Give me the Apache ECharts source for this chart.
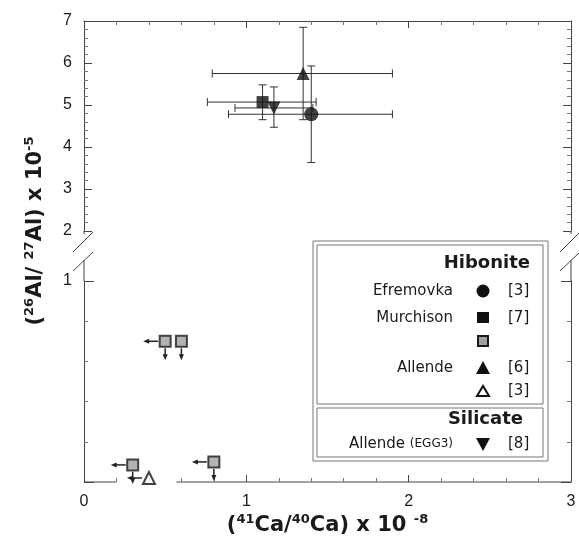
<!DOCTYPE html>
<html lang="en">
<head>
  <meta charset="UTF-8" />
  <title>41Ca/40Ca vs 26Al/27Al</title>
  <script src="https://cdn.jsdelivr.net/npm/echarts@6.0.0/dist/echarts.min.js"></script>
  <style>html, body { margin: 0; background: #fff; }</style>
</head>
<body>
  <div id="main" style="width: 579px; height: 551px;"></div>
  <script type="text/javascript">
    // upper panel (26Al/27Al from 2 to 7), points with error bars
    var upperNames = ['Efremovka', 'Murchison', 'Allende', 'Allende (EGG3)'];
    var upperX   = [1.40, 1.10, 1.35, 1.17];
    var upperY   = [4.78, 5.07, 5.75, 4.93];
    var upperXLo = [0.89, 0.76, 0.79, 0.93];
    var upperXHi = [1.90, 1.43, 1.90, 1.41];
    var upperYLo = [3.63, 4.65, 4.65, 4.47];
    var upperYHi = [5.93, 5.48, 6.85, 5.43];

    // lower panel (0 to 1): upper limits, Murchison grey squares
    var limitX = [0.50, 0.60, 0.30, 0.80];
    var limitY = [0.70, 0.70, 0.085, 0.10];
    var limitLeft = [1, 0, 1, 1];
    var limitDown = [1, 1, 1, 1];
    // Allende [3] open triangle
    var openTriX = [0.40];
    var openTriY = [0.02];
    var openTriLeft = [1];
    var openTriDown = [0];

    var xTickLabels = ['0', '1', '2', '3'];

    // styles
    var axisColor = '#444';
    var textColor = '#1a1a1a';
    var tickFont = 'Liberation Sans';
    var legFont = 'DejaVu Sans';
    var upperSymbols = ['circle', 'rect', 'triangle', 'triangle'];
    var upperRotate = [0, 0, 0, 180];
    var upperSizes = [14, 12, 13, 13];

    var chart = echarts.init(document.getElementById('main'));

    function yAxisDef(grid, pos, min, max, showLabel, majorLen) {
      return {
        gridIndex: grid, type: 'value', position: pos, min: min, max: max, interval: 1,
        axisLine: { show: true, onZero: false, lineStyle: { color: axisColor, width: 1 } },
        axisTick: { show: true, inside: true, length: majorLen, lineStyle: { color: axisColor } },
        minorTick: { show: true, splitNumber: 5, length: 4, lineStyle: { color: '#777' } },
        axisLabel: {
          show: showLabel, margin: 12, color: textColor, fontFamily: tickFont, fontSize: 16,
          formatter: function (v) { return (grid === 1 && v === 0) ? '' : String(v); }
        },
        splitLine: { show: false }
      };
    }

    var errData = upperX.map(function (x, i) {
      return [x, upperY[i], upperXLo[i], upperXHi[i], upperYLo[i], upperYHi[i]];
    });

    function errBars(params, api) {
      var c = api.coord([api.value(0), api.value(1)]);
      var xl = api.coord([api.value(2), api.value(1)])[0];
      var xh = api.coord([api.value(3), api.value(1)])[0];
      var yl = api.coord([api.value(0), api.value(4)])[1];
      var yh = api.coord([api.value(0), api.value(5)])[1];
      var cap = 4;
      var st = { stroke: '#333', lineWidth: 1 };
      function ln(x1, y1, x2, y2) {
        return { type: 'line', shape: { x1: x1, y1: y1, x2: x2, y2: y2 }, style: st };
      }
      return {
        type: 'group',
        children: [
          ln(xl, c[1], xh, c[1]), ln(xl, c[1] - cap, xl, c[1] + cap), ln(xh, c[1] - cap, xh, c[1] + cap),
          ln(c[0], yl, c[0], yh), ln(c[0] - cap, yl, c[0] + cap, yl), ln(c[0] - cap, yh, c[0] + cap, yh)
        ]
      };
    }

    // arrows for upper limits (left = x limit, down = y limit)
    function limitArrows(params, api) {
      var c = api.coord([api.value(0), api.value(1)]);
      var st = { stroke: '#222', lineWidth: 1.5 };
      var fill = { fill: '#222' };
      var kids = [];
      if (api.value(2)) {
        kids.push({ type: 'line', shape: { x1: c[0] - 7, y1: c[1], x2: c[0] - 19, y2: c[1] }, style: st });
        kids.push({ type: 'polygon', shape: { points: [[c[0] - 22, c[1]], [c[0] - 16, c[1] - 2.5], [c[0] - 16, c[1] + 2.5]] }, style: fill });
      }
      if (api.value(3)) {
        kids.push({ type: 'line', shape: { x1: c[0], y1: c[1] + 7, x2: c[0], y2: c[1] + 16 }, style: st });
        kids.push({ type: 'polygon', shape: { points: [[c[0], c[1] + 19], [c[0] - 2.5, c[1] + 13], [c[0] + 2.5, c[1] + 13]] }, style: fill });
      }
      return { type: 'group', children: kids };
    }

    var series = [{
      type: 'custom', xAxisIndex: 0, yAxisIndex: 0, data: errData,
      encode: { x: 0, y: 1 }, renderItem: errBars, z: 1, silent: true
    }];
    upperNames.forEach(function (n, i) {
      series.push({
        name: n, type: 'scatter', xAxisIndex: 0, yAxisIndex: 0,
        data: [[upperX[i], upperY[i]]],
        symbol: upperSymbols[i], symbolRotate: upperRotate[i], symbolSize: upperSizes[i],
        itemStyle: { color: '#111' }, z: 3
      });
    });
    var arrowData = limitX.map(function (x, i) { return [x, limitY[i], limitLeft[i], limitDown[i]]; })
      .concat(openTriX.map(function (x, i) { return [x, openTriY[i], openTriLeft[i], openTriDown[i]]; }));
    series.push({
      type: 'custom', xAxisIndex: 1, yAxisIndex: 2, data: arrowData,
      encode: { x: 0, y: 1 }, renderItem: limitArrows, z: 1, silent: true, clip: false
    });
    series.push({
      name: 'Murchison (limits)', type: 'scatter', xAxisIndex: 1, yAxisIndex: 2,
      data: limitX.map(function (x, i) { return [x, limitY[i]]; }),
      symbol: 'rect', symbolSize: 11,
      itemStyle: { color: '#a0a0a0', borderColor: '#1a1a1a', borderWidth: 2 }, z: 3, clip: false
    });
    series.push({
      name: 'Allende [3]', type: 'scatter', xAxisIndex: 1, yAxisIndex: 2,
      data: openTriX.map(function (x, i) { return [x, openTriY[i]]; }),
      symbol: 'triangle', symbolSize: 12,
      itemStyle: { color: '#fff', borderColor: '#111', borderWidth: 2 }, z: 3, clip: false
    });

    chart.setOption({
      animation: false,
      backgroundColor: '#fff',
      grid: [
        { left: 84, right: 8, top: 21, height: 210 },
        { left: 84, right: 8, top: 281, bottom: 69 }
      ],
      xAxis: [{
        gridIndex: 0, type: 'value', position: 'top', min: 0, max: 3, interval: 1,
        axisLine: { show: true, lineStyle: { color: axisColor } },
        axisTick: { show: true, inside: true, length: 7, lineStyle: { color: axisColor } },
        minorTick: { show: true, splitNumber: 5, length: 4, lineStyle: { color: '#777' } },
        axisLabel: { show: false }, splitLine: { show: false }
      }, {
        gridIndex: 1, type: 'value', position: 'bottom', min: 0, max: 3, interval: 1,
        axisLine: { show: false },
        axisTick: { show: true, inside: true, length: 7, lineStyle: { color: axisColor } },
        minorTick: { show: true, splitNumber: 5, length: 4, lineStyle: { color: '#777' } },
        axisLabel: {
          margin: 12, color: textColor, fontFamily: tickFont, fontSize: 16,
          formatter: function (v) { return xTickLabels[v]; }
        },
        splitLine: { show: false }
      }],
      yAxis: [
        yAxisDef(0, 'left', 2, 7, true, 8),
        yAxisDef(0, 'right', 2, 7, false, 8),
        yAxisDef(1, 'left', 0, 1, true, 10),
        yAxisDef(1, 'right', 0, 1, false, 10)
      ],
      series: series
    });

    // decorations: axis breaks, bottom axis line, legend box, titles
    var p0 = chart.convertToPixel({ xAxisIndex: 0, yAxisIndex: 0 }, [0, 2]);
    var p3 = chart.convertToPixel({ xAxisIndex: 0, yAxisIndex: 0 }, [3, 2]);
    var q1 = chart.convertToPixel({ xAxisIndex: 1, yAxisIndex: 2 }, [0, 1]);
    var q0 = chart.convertToPixel({ xAxisIndex: 1, yAxisIndex: 2 }, [0, 0]);
    var gapA = chart.convertToPixel({ xAxisIndex: 1, yAxisIndex: 2 }, [0.2, 0]);
    var gapB = chart.convertToPixel({ xAxisIndex: 1, yAxisIndex: 2 }, [0.57, 0]);
    var xl = p0[0], xr = p3[0], yb = p0[1], yt = q1[1];
    var ls = { stroke: axisColor, lineWidth: 1 };
    function gl(x1, y1, x2, y2, st) {
      return { type: 'line', silent: true, shape: { x1: x1, y1: y1, x2: x2, y2: y2 }, style: st || ls };
    }
    var g = [];
    [xl, xr].forEach(function (ax) {
      g.push(gl(ax, yb, ax, yb + 3));
      g.push(gl(ax, yb + 29, ax, yt));
      g.push(gl(ax - 11, yb + 21, ax + 9, yb + 1));
      g.push(gl(ax - 11, yb + 40, ax + 9, yb + 21));
    });
    g.push(gl(q0[0], q0[1], gapA[0], gapA[1]));
    g.push(gl(gapB[0], gapB[1], xr, q0[1]));

    // legend box
    var boxSt = { stroke: '#777', fill: null, lineWidth: 1 };
    g.push({ type: 'rect', silent: true, shape: { x: 313, y: 241, width: 235, height: 220 }, style: boxSt });
    g.push({ type: 'rect', silent: true, shape: { x: 317, y: 245, width: 226, height: 159 }, style: boxSt });
    g.push({ type: 'rect', silent: true, shape: { x: 317, y: 408, width: 226, height: 49 }, style: boxSt });
    function txt(x, y, s, align, font, size, weight) {
      return {
        type: 'text', silent: true, x: x, y: y,
        style: { text: s, align: align, verticalAlign: 'middle', fill: textColor, fontFamily: font, fontSize: size, fontWeight: weight || 'normal' }
      };
    }
    g.push(txt(530, 263, 'Hibonite', 'right', legFont, 18, 'bold'));
    g.push(txt(453, 291, 'Efremovka', 'right', legFont, 15));
    g.push(txt(453, 318, 'Murchison', 'right', legFont, 15));
    g.push(txt(453, 368, 'Allende', 'right', legFont, 15));
    g.push(txt(523, 419, 'Silicate', 'right', legFont, 18, 'bold'));
    g.push({
      type: 'text', silent: true, x: 453, y: 444,
      style: {
        text: '{a|Allende }{b|(EGG3)}', align: 'right', verticalAlign: 'middle', fill: textColor,
        rich: {
          a: { fontFamily: legFont, fontSize: 15, fill: textColor },
          b: { fontFamily: legFont, fontSize: 12, fill: textColor }
        }
      }
    });
    g.push(txt(508, 291, '[3]', 'left', legFont, 15));
    g.push(txt(508, 318, '[7]', 'left', legFont, 15));
    g.push(txt(508, 368, '[6]', 'left', legFont, 15));
    g.push(txt(508, 391, '[3]', 'left', legFont, 15));
    g.push(txt(508, 444, '[8]', 'left', legFont, 15));
    var sx = 483;
    g.push({ type: 'circle', silent: true, shape: { cx: sx, cy: 291, r: 6.5 }, style: { fill: '#111' } });
    g.push({ type: 'rect', silent: true, shape: { x: sx - 6, y: 312, width: 12, height: 11 }, style: { fill: '#111' } });
    g.push({ type: 'rect', silent: true, shape: { x: sx - 5, y: 336, width: 10, height: 10 }, style: { fill: '#a0a0a0', stroke: '#1a1a1a', lineWidth: 2 } });
    g.push({ type: 'polygon', silent: true, shape: { points: [[sx, 361], [sx - 7, 374], [sx + 7, 374]] }, style: { fill: '#111' } });
    g.push({ type: 'polygon', silent: true, shape: { points: [[sx, 386], [sx - 6, 396], [sx + 6, 396]] }, style: { fill: '#fff', stroke: '#111', lineWidth: 2 } });
    g.push({ type: 'polygon', silent: true, shape: { points: [[sx, 451], [sx - 7, 438], [sx + 7, 438]] }, style: { fill: '#111' } });

    // axis titles with superscripts
    var titleRich = {
      m: { fontFamily: 'DejaVu Sans', fontSize: 21, fontWeight: 'bold', fill: textColor, lineHeight: 26 },
      s: { fontFamily: 'DejaVu Sans', fontSize: 13, fontWeight: 'bold', fill: textColor, verticalAlign: 'top', lineHeight: 13 }
    };
    g.push({
      type: 'text', silent: true, x: (xl + xr) / 2, y: 526,
      style: {
        text: '{m|(}{s|41}{m|Ca/}{s|40}{m|Ca) x 10 }{s|-8}',
        align: 'center', verticalAlign: 'middle', rich: titleRich
      }
    });
    g.push({
      type: 'text', silent: true, x: 36, y: 231, rotation: Math.PI / 2,
      style: {
        text: '{m|(}{s|26}{m|Al/ }{s|27}{m|Al) x 10}{s|-5}',
        align: 'center', verticalAlign: 'middle', rich: titleRich
      }
    });
    chart.setOption({ graphic: g });
  </script>
</body>
</html>
